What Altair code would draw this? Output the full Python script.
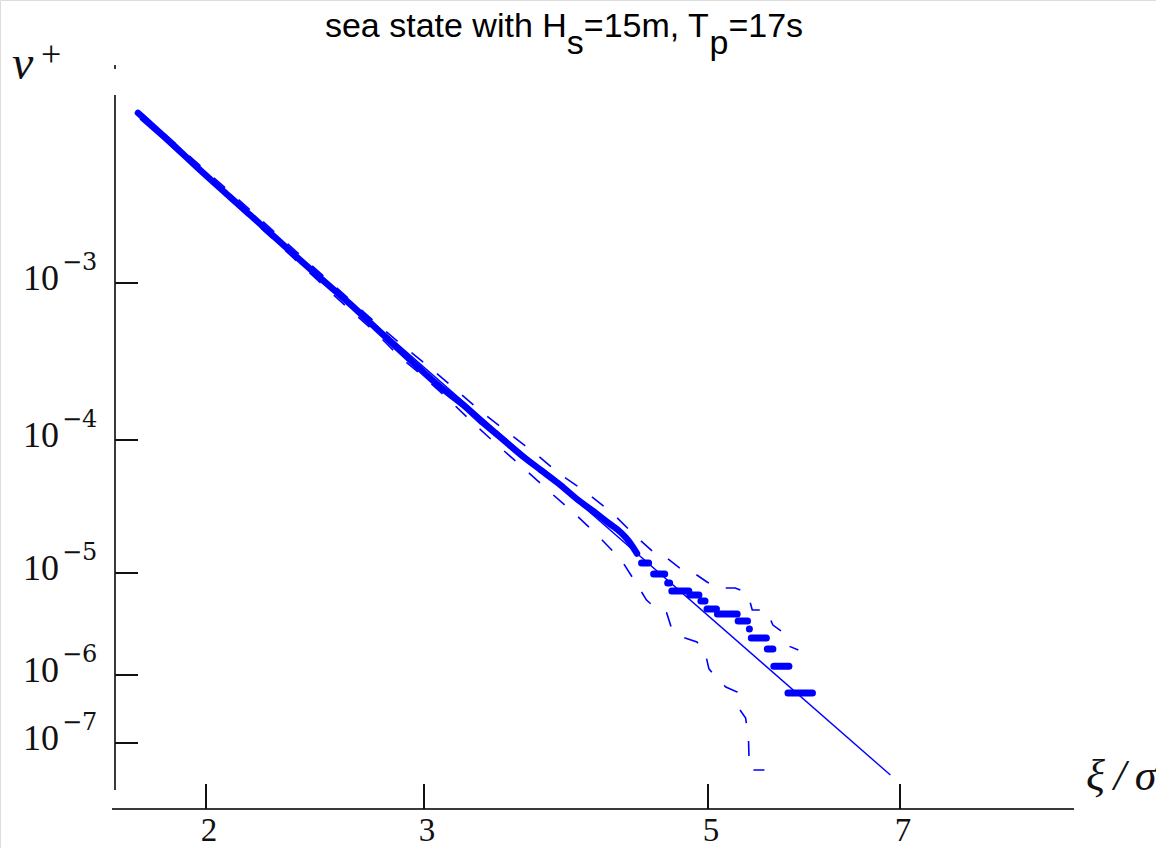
import altair as alt
import pandas as pd

# ---------------- data ----------------
x_ticks = [2, 3, 5, 7]
x_tick_labels = ["2", "3", "5", "7"]
y_ticks = [1e-7, 1e-6, 1e-5, 1e-4, 1e-3]
y_tick_exps = ["\u22127", "\u22126", "\u22125", "\u22124", "\u22123"]

# fitted (Rayleigh) straight line
fit_x = [1.697, 6.90]
fit_nu = [1.109e-2, 3.38e-8]

# empirical up-crossing rate (continuous part)
emp_x = [1.688, 1.835, 1.972, 2.110, 2.248, 2.385, 2.523, 2.661, 2.798, 2.936,
         3.113, 3.277, 3.418, 3.560, 3.702, 3.823, 3.943, 4.085, 4.199, 4.298,
         4.390, 4.440, 4.500]
emp_nu = [1.211e-2, 7.91e-3, 5.25e-3, 3.53e-3, 2.38e-3, 1.60e-3, 1.08e-3, 7.35e-4,
          4.88e-4, 3.24e-4, 2.18e-4, 1.67e-4, 1.28e-4, 1.00e-4, 7.45e-5, 5.94e-5,
          4.75e-5, 3.54e-5, 2.88e-5, 2.38e-5, 2.00e-5, 1.75e-5, 1.40e-5]

# empirical tail: flat runs (start, end, level)
step_x1 = [4.532, 4.617, 4.716, 4.745, 4.872, 4.950, 4.993, 5.098, 5.314, 5.431,
           5.451, 5.618, 5.686, 5.833]
step_x2 = [4.582, 4.695, 4.730, 4.865, 4.936, 4.979, 5.088, 5.304, 5.412, 5.431,
           5.608, 5.676, 5.843, 6.088]
step_nu = [1.19e-5, 9.78e-6, 7.97e-6, 6.66e-6, 6.08e-6, 5.31e-6, 4.44e-6, 3.96e-6,
           3.38e-6, 2.82e-6, 2.31e-6, 1.80e-6, 1.22e-6, 5.43e-7]

# upper confidence band
upper_x = [1.697, 2.202, 2.661, 2.780, 2.899, 3.035, 3.227, 3.404, 3.589, 3.780,
           3.965, 4.149, 4.326, 4.496, 4.624, 4.709, 4.801, 4.901, 4.993, 5.108,
           5.284, 5.412, 5.461, 5.608, 5.676, 5.775, 5.843, 5.941]
upper_nu = [1.23e-2, 2.92e-3, 7.80e-4, 5.56e-4, 4.03e-4, 2.92e-4, 2.08e-4, 1.51e-4,
            1.12e-4, 7.98e-5, 5.46e-5, 4.00e-5, 2.82e-5, 1.87e-5, 1.41e-5, 1.30e-5,
            1.09e-5, 1.00e-5, 8.16e-6, 7.13e-6, 7.13e-6, 6.37e-6, 4.34e-6, 4.34e-6,
            3.09e-6, 2.64e-6, 1.92e-6, 1.76e-6]

# lower confidence band
lower_x = [1.697, 2.202, 2.661, 2.775, 2.885, 3.000, 3.177, 3.355, 3.532, 3.709,
           3.887, 4.064, 4.227, 4.390, 4.511, 4.567, 4.638, 4.709, 4.745, 4.816,
           4.922, 4.979, 5.010, 5.088, 5.186, 5.304, 5.333, 5.392, 5.422, 5.431,
           5.588]
lower_nu = [1.16e-2, 2.59e-3, 6.73e-4, 4.88e-4, 3.43e-4, 2.52e-4, 1.80e-4, 1.26e-4,
            8.86e-5, 6.05e-5, 4.06e-5, 2.78e-5, 1.90e-5, 1.25e-5, 7.29e-6, 5.43e-6,
            4.44e-6, 4.06e-6, 2.82e-6, 2.36e-6, 2.11e-6, 1.68e-6, 1.15e-6, 9.03e-7,
            6.67e-7, 5.62e-7, 3.06e-7, 2.33e-7, 1.11e-7, 4.01e-8, 4.01e-8]

title_parts = ["sea state with H", "s", "=15m, T", "p", "=17s"]
title_sub = [False, True, False, True, False]

# ---------------- scales (the figure's axes are warped: piecewise) ----------------
XS = alt.Scale(type="linear", domain=[2, 3, 5, 7], range=[206, 424, 708, 900],
               nice=False, zero=False)
YS = alt.Scale(type="log", domain=[1e-7, 1e-6, 1e-5, 1e-4, 1e-3],
               range=[743, 675, 573, 440, 283], nice=False)

BLUE = "#0000ff"
SERIF = "Liberation Serif"
INK = "#111111"


def X(f="x"):
    return alt.X(f"{f}:Q", scale=XS, axis=None)


def Y(f="nu"):
    return alt.Y(f"{f}:Q", scale=YS, axis=None)


def series(xs, ys):
    return pd.DataFrame({"x": xs, "nu": ys, "i": range(len(xs))})


one = pd.DataFrame({"a": [0]})

fit = alt.Chart(series(fit_x, fit_nu)).mark_line(color=BLUE, strokeWidth=1.4).encode(
    x=X(), y=Y(), order="i:Q")

band_style = dict(color=BLUE, strokeWidth=1.6, strokeDash=[15, 18])
upper = alt.Chart(series(upper_x, upper_nu)).mark_line(**band_style).encode(
    x=X(), y=Y(), order="i:Q")
lower = alt.Chart(series(lower_x, lower_nu)).mark_line(**band_style).encode(
    x=X(), y=Y(), order="i:Q")

emp = alt.Chart(series(emp_x, emp_nu)).mark_line(
    color=BLUE, strokeWidth=6.5, strokeCap="round", strokeJoin="round",
    interpolate="monotone").encode(x=X(), y=Y(), order="i:Q")

steps = alt.Chart(pd.DataFrame({"x": step_x1, "x2": step_x2, "nu": step_nu})).mark_rule(
    color=BLUE, strokeWidth=7, strokeCap="round").encode(
    x=X(), x2="x2:Q", y=Y())

# ---------------- axes drawn by hand (ticks point inward) ----------------
AX = "#3a3a3a"
yaxis_line = alt.Chart(one).mark_rule(color=AX, strokeWidth=2).encode(
    x=alt.value(115), y=alt.value(95), y2=alt.value(790))
yaxis_dot = alt.Chart(one).mark_rule(color=AX, strokeWidth=2).encode(
    x=alt.value(115), y=alt.value(65), y2=alt.value(69))
xaxis_line = alt.Chart(one).mark_rule(color=AX, strokeWidth=2).encode(
    x=alt.value(112), x2=alt.value(1074), y=alt.value(809))

ydf = pd.DataFrame({"nu": y_ticks, "e": y_tick_exps})
xdf = pd.DataFrame({"x": x_ticks, "t": x_tick_labels})

yt = alt.Chart(ydf).mark_rule(color=INK, strokeWidth=2).encode(
    y=Y(), x=alt.value(115), x2=alt.value(138))
xt = alt.Chart(xdf).mark_rule(color=INK, strokeWidth=2).encode(
    x=X(), y=alt.value(784), y2=alt.value(809))

ylab10 = alt.Chart(ydf).mark_text(font=SERIF, fontSize=36, align="right",
                                  baseline="alphabetic", dy=7, color=INK).encode(
    y=Y(), x=alt.value(59), text=alt.value("10"))
ylabexp = alt.Chart(ydf).mark_text(font="DejaVu Serif", fontSize=24, align="left",
                                   baseline="alphabetic", dy=-13, color=INK).encode(
    y=Y(), x=alt.value(62), text="e:N")
xlab = alt.Chart(xdf).mark_text(font=SERIF, fontSize=33, align="center",
                                baseline="bottom", dx=3, color=INK).encode(
    x=X(), y=alt.value(848), text="t:N")

# ---------------- title and axis names ----------------
AW = {"s": 500, "e": 556, "a": 556, " ": 278, "t": 278, "w": 722, "i": 222, "h": 556,
      "H": 722, "=": 584, "1": 556, "5": 556, "m": 833, ",": 278, "T": 611, "p": 556,
      "7": 556}
TS = 34
widths = [sum(AW[c] for c in p) / 1000 * TS for p in title_parts]
x0 = 564 - sum(widths) / 2
tx, acc = [], x0
for w in widths:
    tx.append(acc)
    acc += w
tdf = pd.DataFrame({"t": title_parts, "px": tx,
                    "py": [54 if s else 37 for s in title_sub]})
title = alt.Chart(tdf).mark_text(font="Liberation Sans", fontSize=TS, align="left",
                                 baseline="alphabetic", color="#000").encode(
    x=alt.X("px:Q", scale=None), y=alt.Y("py:Q", scale=None), text="t:N")

nu_lab = alt.Chart(one).mark_text(
    font=SERIF, fontSize=48, fontStyle="italic", align="left", baseline="alphabetic",
    color=INK).encode(x=alt.value(12), y=alt.value(79), text=alt.value("\u03bd"))
nu_plus = alt.Chart(one).mark_text(
    font=SERIF, fontSize=36, align="left", baseline="alphabetic",
    color=INK).encode(x=alt.value(41), y=alt.value(66), text=alt.value("+"))
xi_lab = alt.Chart(one).mark_text(
    font=SERIF, fontSize=44, fontStyle="italic", align="left", baseline="alphabetic",
    color=INK).encode(x=alt.value(1086), y=alt.value(790),
                      text=alt.value("\u03be\u2009/\u2009\u03c3"))

chart = alt.layer(
    yaxis_line, yaxis_dot, xaxis_line, yt, xt, ylab10, ylabexp, xlab,
    fit, upper, lower, emp, steps,
    title, nu_lab, nu_plus, xi_lab,
).properties(
    width=1156, height=848,
    autosize=alt.AutoSizeParams(type="none"),
    padding=0,
).configure_view(stroke=None).configure(background="white")

chart.save("out.html", embed_options={"renderer": "svg", "actions": False})
